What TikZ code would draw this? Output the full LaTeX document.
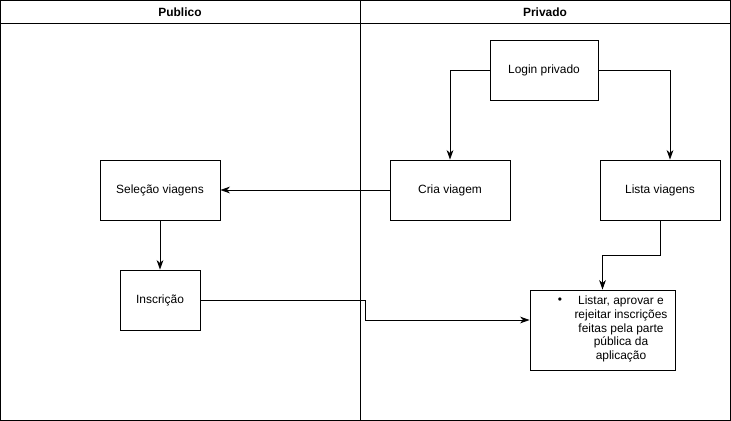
\documentclass[tikz,border=0pt]{standalone}
\usepackage{fontspec}
\setmainfont{Liberation Sans}
\usetikzlibrary{arrows.meta,positioning}
\tikzset{
    box/.style={draw, semithick, minimum width=3cm, minimum height=1.5cm, inner sep=0pt, font=\fontsize{8.5}{10}\selectfont},
    flow/.style={-{Stealth[length=2.4mm,width=1.7mm]}, semithick},
    lane/.style={font=\fontsize{8.5}{10}\selectfont\bfseries}
}
\begin{document}
\begin{tikzpicture}[x=0.025cm, y=-0.025cm]
    \useasboundingbox (0,0) rectangle (731,421);
    % Swimlanes
    \draw[semithick] (0.5,0.5) rectangle (730.5,420.5);
    \draw[semithick] (0.5,23) -- (730.5,23);
    \draw[semithick] (360,0.5) -- (360,420.5);
    \node[lane] (publico) at (180,12) {Publico};
    \node[lane] (privado) at (545,12) {Privado};

    % Boxes
    \node[box, minimum width=2.7cm] (login) at (544,70.5) {Login privado};
    \node[box] (cria) at (450,190) {Cria viagem};
    \node[box] (lista) at (660,190) {Lista viagens};
    \node[box] (selecao) at (160,190) {Seleção viagens};
    \node[box, minimum width=2cm] (inscricao) at (160,300) {Inscrição};
    \node[box, minimum width=3.625cm, minimum height=2cm] (listar) at (602.5,330) {};
    \node[font=\fontsize{8.5}{9.9}\selectfont, align=center, inner sep=0pt] (listartxt) at (621,329)
        {Listar, aprovar e\\rejeitar inscrições\\feitas pela parte\\pública da\\aplicação};
    \node[font=\fontsize{8.5}{10}\selectfont, inner sep=0pt] (bullet) at (560,301) {\textbullet};

    % Connectors
    \draw[flow] (login.west) -| (cria.north);
    \draw[flow] (login.east) -| ([xshift=0.25cm]lista.north);
    \draw[flow] (cria.west) -- (selecao.east);
    \draw[flow] (selecao.south) -- (inscricao.north);
    \draw[flow] (inscricao.east) -- (365,300) |- ([yshift=0.25cm]listar.west);
    \draw[flow] (lista.south) -- (660,255) -| (listar.north);
\end{tikzpicture}
\end{document}
